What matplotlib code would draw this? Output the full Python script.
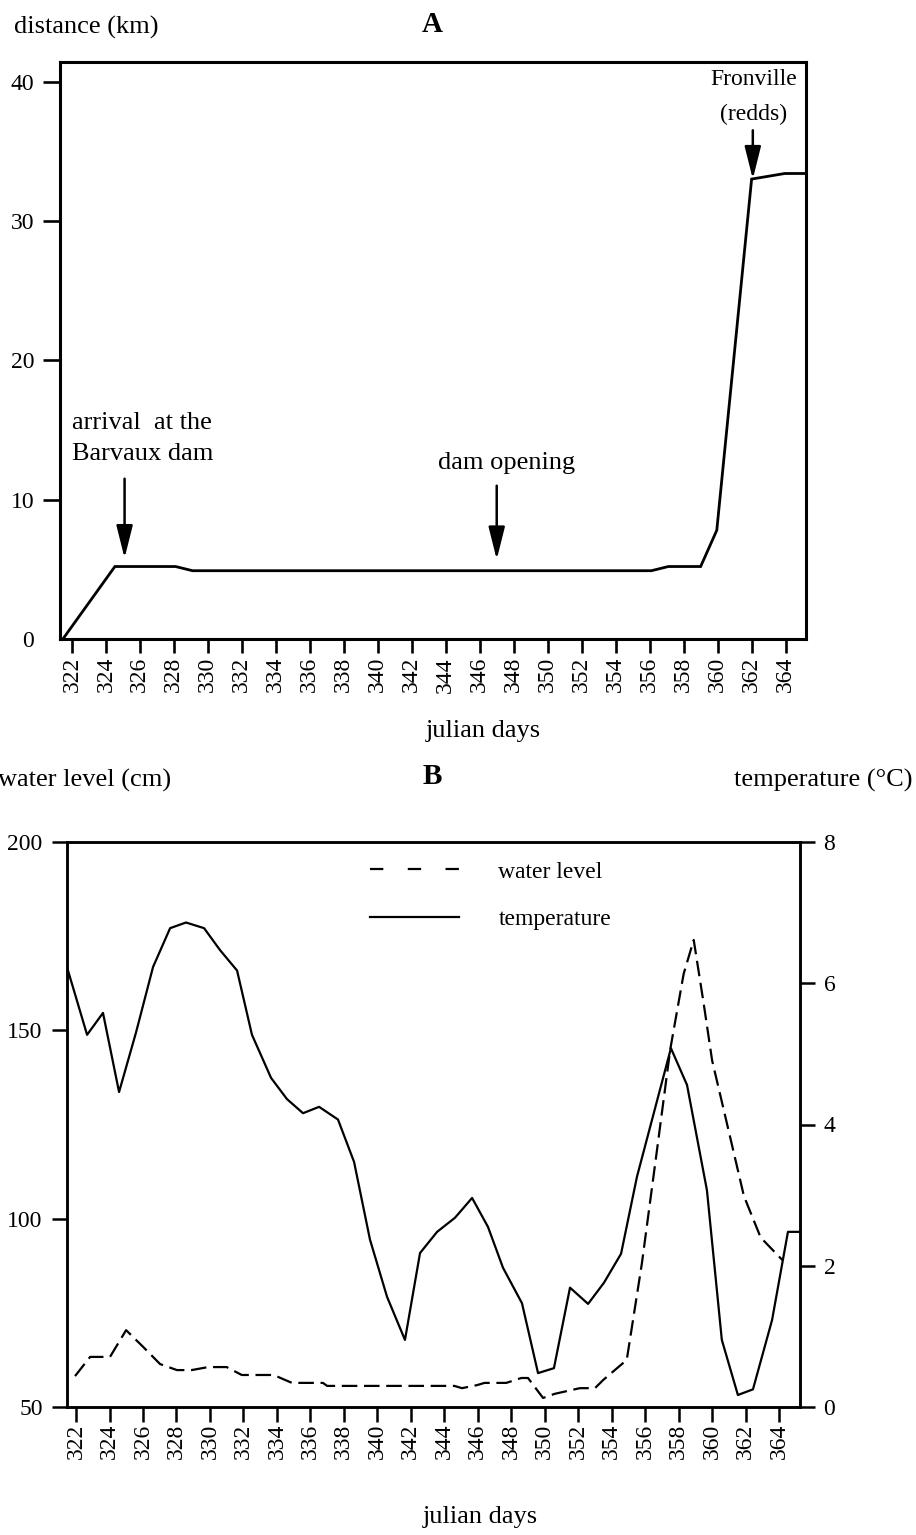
import matplotlib
matplotlib.use("Agg")
import matplotlib.pyplot as plt
from matplotlib.lines import Line2D

plt.rcParams['font.family'] = ['Liberation Serif', 'DejaVu Serif']

# ---------------- data ----------------
# Panel A: distance travelled (km) vs julian day
dist_days = [321.47, 324.53, 328.1, 329.1, 356.1, 357.1, 359.0, 359.95, 362.0, 363.95, 365.1]
dist_km = [0.0, 5.2, 5.2, 4.9, 4.9, 5.2, 5.2, 7.8, 33.0, 33.4, 33.4]

# Panel B: water level (cm)
wl_days = [321.94, 322.84, 324.03, 324.99, 326.0, 327.02, 328.03, 328.9, 329.9, 331.0,
           331.9, 333.8, 334.9, 336.75, 337.0, 344.6, 345.06, 345.95, 346.4, 347.7,
           348.6, 349.0, 349.9, 350.6, 352.1, 353.0, 353.5, 354.9, 355.8, 356.7,
           357.5, 358.3, 358.9, 359.5, 360.0, 360.9, 361.9, 362.9, 364.2]
wl_cm = [58.2, 63.3, 63.3, 70.4, 66.0, 61.4, 59.8, 59.8, 60.6, 60.6,
         58.5, 58.5, 56.4, 56.4, 55.6, 55.6, 55.0, 55.8, 56.4, 56.4,
         57.7, 57.7, 52.4, 53.5, 55.0, 55.0, 57.2, 62.5, 88.0, 118.0,
         145.0, 165.0, 174.0, 157.0, 142.0, 125.0, 106.0, 95.0, 89.0]

# Panel B: temperature (deg C)
t_days = [321.52, 322.66, 323.61, 324.57, 325.58, 326.60, 327.62, 328.57, 329.65, 330.60,
          331.62, 332.51, 333.65, 334.60, 335.56, 336.52, 337.65, 338.61, 339.56, 340.58,
          341.65, 342.55, 343.57, 344.64, 345.66, 346.61, 347.51, 348.64, 349.60, 350.55,
          351.51, 352.59, 353.54, 354.56, 355.51, 357.54, 358.50, 359.69, 360.58, 361.54,
          362.44, 363.58, 364.53, 365.25]
t_c = [6.18, 5.27, 5.58, 4.46, 5.30, 6.23, 6.78, 6.86, 6.78, 6.47,
       6.18, 5.27, 4.66, 4.36, 4.16, 4.25, 4.07, 3.47, 2.37, 1.56,
       0.95, 2.18, 2.48, 2.68, 2.96, 2.55, 1.97, 1.47, 0.48, 0.55,
       1.69, 1.46, 1.76, 2.17, 3.26, 5.08, 4.56, 3.07, 0.95, 0.17,
       0.25, 1.23, 2.48, 2.48]

day_ticks = list(range(322, 366, 2))
a_yticks = [0, 10, 20, 30, 40]
b_yticks = [50, 100, 150, 200]
t_yticks = [0, 2, 4, 6, 8]

# ---------------- figure ----------------
W, H = 916, 1535
fig = plt.figure(figsize=(W / 100, H / 100), dpi=100)
TFS = 17    # tick labels
LFS = 19    # axis labels / annotations


def fx(x):
    return x / W


def fy(y):
    return 1 - y / H


def axes_px(l, t, r, b):
    return [fx(l), fy(b), (r - l) / W, (b - t) / H]


# ---------- Panel A ----------
axA = fig.add_axes(axes_px(60, 62, 806, 639))
axA.plot(dist_days, dist_km, color='black', lw=2.0, solid_joinstyle='miter')
axA.set_xlim(321.3, 365.2)
axA.set_ylim(0, 41.4)
axA.set_xticks(day_ticks)
axA.set_xticklabels([str(d) for d in day_ticks], rotation=90, fontsize=TFS)
axA.set_yticks(a_yticks)
axA.set_yticklabels([str(v) for v in a_yticks], fontsize=TFS)
for sp in axA.spines.values():
    sp.set_linewidth(2.2)
axA.tick_params(axis='x', direction='out', length=10, width=1.9, pad=3)
axA.tick_params(axis='y', direction='out', length=12, width=1.9, pad=6.5)
axA.yaxis.get_major_ticks()[0].tick1line.set_visible(False)

arrow_kw = dict(arrowstyle='-|>,head_length=2.0,head_width=0.5', color='black',
                lw=1.8, mutation_scale=10, shrinkA=0, shrinkB=0)
axA.annotate('', xy=(325.1, 5.8), xytext=(325.1, 11.5), arrowprops=arrow_kw)
axA.annotate('', xy=(347.0, 5.7), xytext=(347.0, 11.0), arrowprops=arrow_kw)
axA.annotate('', xy=(362.07, 33.0), xytext=(362.07, 36.5), arrowprops=arrow_kw)
axA.text(322.0, 14.4, 'arrival  at the\nBarvaux dam', ha='left', va='center',
         fontsize=LFS, linespacing=1.55)
axA.text(347.6, 12.6, 'dam opening', ha='center', va='center', fontsize=LFS)
axA.text(362.1, 38.9, 'Fronville\n(redds)', ha='center', va='center',
         fontsize=TFS, linespacing=1.85)

fig.text(fx(14), fy(27), 'distance (km)', ha='left', va='center', fontsize=LFS)
fig.text(fx(432), fy(24), 'A', ha='center', va='center', fontsize=21, fontweight='bold')
fig.text(fx(483), fy(731), 'julian days', ha='center', va='center', fontsize=LFS)

# ---------- Panel B ----------
axB = fig.add_axes(axes_px(67, 842, 800, 1407))
axB.plot(wl_days, wl_cm, color='black', lw=1.6, dashes=(7, 3))
axB.set_xlim(321.46, 365.25)
axB.set_ylim(50, 200)
axB.set_xticks(day_ticks)
axB.set_xticklabels([str(d) for d in day_ticks], rotation=90, fontsize=TFS)
axB.set_yticks(b_yticks)
axB.set_yticklabels([str(v) for v in b_yticks], fontsize=TFS)
axB.tick_params(axis='x', direction='out', length=11, width=1.8, pad=1)
axB.tick_params(axis='y', direction='out', length=11, width=1.8, pad=6.5)
for sp in axB.spines.values():
    sp.set_linewidth(1.8)

axT = axB.twinx()
axT.plot(t_days, t_c, color='black', lw=1.6)
axT.set_ylim(0, 8)
axT.set_yticks(t_yticks)
axT.set_yticklabels([str(v) for v in t_yticks], fontsize=TFS)
axT.tick_params(axis='y', direction='out', length=11, width=1.8, pad=6)
for sp in axT.spines.values():
    sp.set_linewidth(1.8)

handles = [Line2D([], [], color='black', lw=1.6, dashes=(6, 11)),
           Line2D([], [], color='black', lw=1.6)]
axB.legend(handles, ['water level', 'temperature'], loc='upper left',
           bbox_to_anchor=(0.413, 0.966), frameon=False, fontsize=TFS,
           handlelength=3.8, handletextpad=1.65, labelspacing=1.1,
           borderpad=0, borderaxespad=0)

fig.text(fx(-2), fy(780), 'water level (cm)', ha='left', va='center', fontsize=LFS)
fig.text(fx(432), fy(777), 'B', ha='center', va='center', fontsize=21, fontweight='bold')
fig.text(fx(913), fy(780), 'temperature (°C)', ha='right', va='center', fontsize=LFS)
fig.text(fx(480), fy(1517), 'julian days', ha='center', va='center', fontsize=LFS)

fig.savefig('out.png', dpi=100, facecolor='white')
